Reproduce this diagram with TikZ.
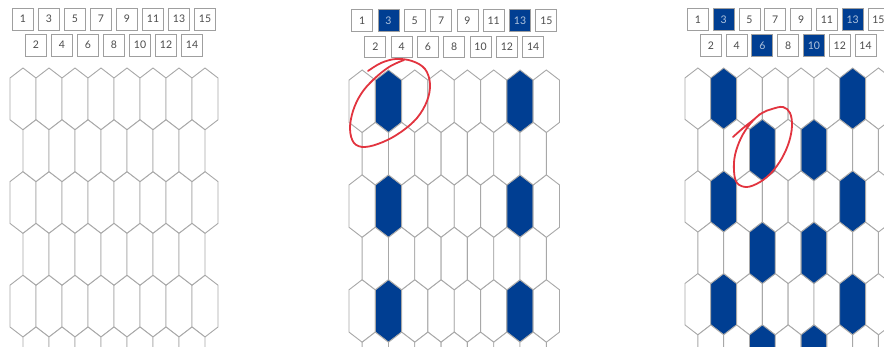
\documentclass[tikz,border=0pt]{standalone}
\usepackage{fontspec}
\setsansfont{Lato}
\definecolor{tileblue}{HTML}{003E92}
\definecolor{penred}{HTML}{E2343F}
\definecolor{tileedge}{HTML}{A8A8A8}
% one elongated hexagon, given centre x and top y
\newcommand{\hexpath}[2]{({#1},{#2}) -- ++(13,10) -- ++(0,41.8) -- ++(-13,10) -- ++(-13,-10) -- ++(0,-41.8) -- cycle}

\begin{document}
\begin{tikzpicture}[x=1pt,y=-1pt,
 boxw/.style={draw=gray!75,line width=0.8pt,fill=white,minimum width=21pt,minimum height=21.5pt,inner sep=0pt,font=\sffamily\fontsize{10.5}{11}\selectfont,text=black!70},
 boxb/.style={boxw,fill=tileblue,text=white!70!tileblue},
 tilew/.style={draw=tileedge,line width=0.9pt,fill=white},
 tileb/.style={tilew,fill=tileblue},
 redloop/.style={draw=penred,line width=1.8pt,line cap=round,line join=round}]
\useasboundingbox (0,0) rectangle (884,347);
\clip (0,0) rectangle (884,347);
% left panel: empty grid
\begin{scope}[shift={(10,68)}]
\foreach \n/\k in {1/w,3/w,5/w,7/w,9/w,11/w,13/w,15/w}{
  \node[box\k] (a\n) at ({13*\n},-48.8) {\n};
  \foreach \r in {0,2,4} \draw[tile\k] \hexpath{13*\n}{51.8*\r};
}
\foreach \n/\k in {2/w,4/w,6/w,8/w,10/w,12/w,14/w}{
  \node[box\k] (a\n) at ({13*\n},-22.8) {\n};
  \foreach \r in {1,3,5} \draw[tile\k] \hexpath{13*\n}{51.8*\r};
}
\end{scope}
% middle panel: columns 3 and 13
\begin{scope}[shift={(349,70)},scale=1.012]
\foreach \n/\k in {1/w,3/b,5/w,7/w,9/w,11/w,13/b,15/w}{
  \node[box\k] (b\n) at ({13*\n},-48.8) {\n};
  \foreach \r in {0,2,4} \draw[tile\k] \hexpath{13*\n}{51.8*\r};
}
\foreach \n/\k in {2/w,4/w,6/w,8/w,10/w,12/w,14/w}{
  \node[box\k] (b\n) at ({13*\n},-22.8) {\n};
  \foreach \r in {1,3,5} \draw[tile\k] \hexpath{13*\n}{51.8*\r};
}
\end{scope}
% right panel: columns 3, 6, 10 and 13
\begin{scope}[shift={(685,68)},scale=0.992]
\foreach \n/\k in {1/w,3/b,5/w,7/w,9/w,11/w,13/b,15/w}{
  \node[box\k] (c\n) at ({13*\n},-48.8) {\n};
  \foreach \r in {0,2,4} \draw[tile\k] \hexpath{13*\n}{51.8*\r};
}
\foreach \n/\k in {2/w,4/w,6/b,8/w,10/b,12/w,14/w}{
  \node[box\k] (c\n) at ({13*\n},-22.8) {\n};
  \foreach \r in {1,3,5} \draw[tile\k] \hexpath{13*\n}{51.8*\r};
}
\end{scope}
% hand drawn rings
\draw[redloop] plot[smooth,tension=0.6] coordinates {(368,71) (381,63) (396,59) (412,61) (425,69) (430,84) (427,101) (417,118) (401,132) (383,142) (365,147) (354,143) (350,129) (353,111) (361,94) (373,80) (389,67) (404,60)};
\draw[redloop] plot[smooth,tension=0.6] coordinates {(733,137) (742,129) (752,121) (762,113) (772,109) (783,107) (790,113) (792,126) (789,142) (782,158) (772,172) (760,182) (747,187) (737,183) (734,171) (735,155) (741,138) (750,124) (760,114)};
\end{tikzpicture}
\end{document}
